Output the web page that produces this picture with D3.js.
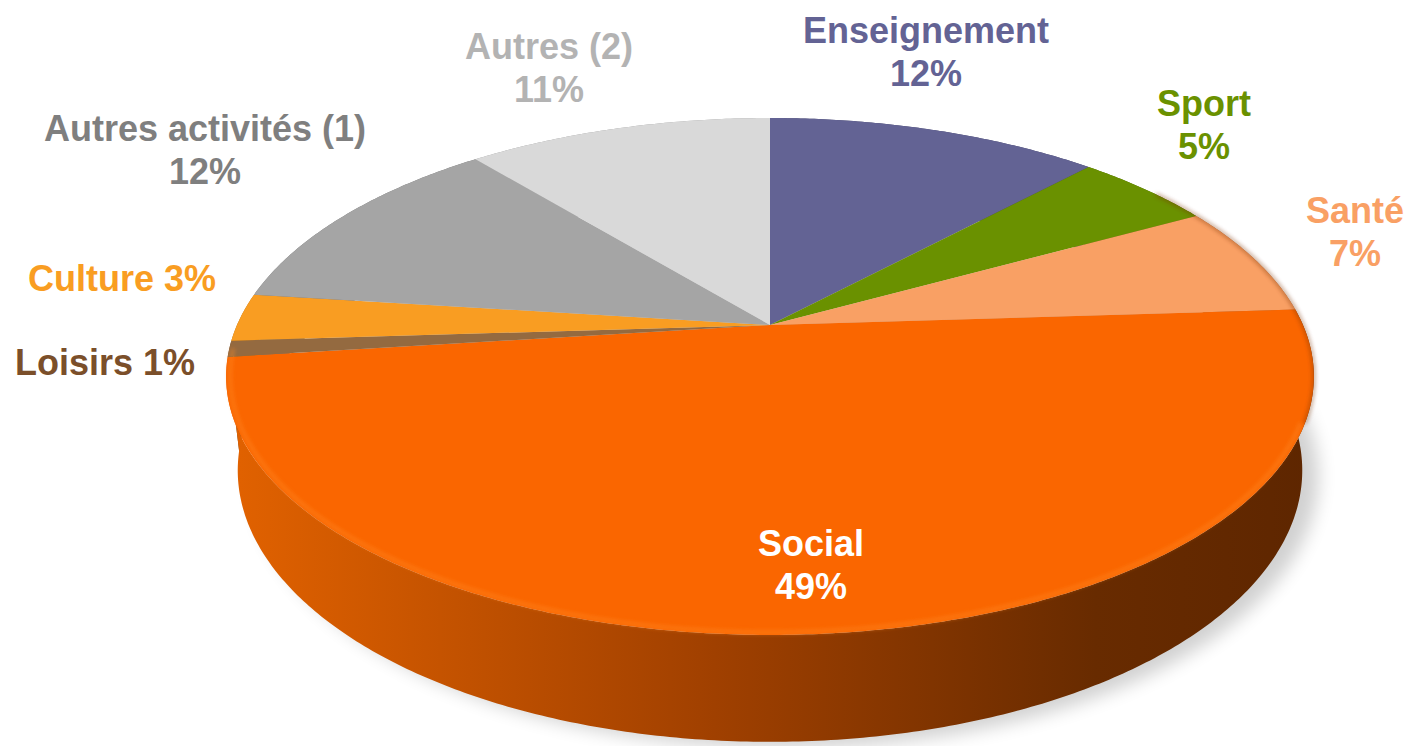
<!DOCTYPE html>
<html lang="fr">
<head>
    <meta charset="UTF-8">
    <title>pie-3d-perspective</title>
    <script type="application/javascript" src="https://cdn.jsdelivr.net/npm/d3@7/dist/d3.min.js"></script>
    <style>
        body {
            margin: 0;
            background: #fff;
        }
        .labels text {
            font-family: "Liberation Sans", Arial, sans-serif;
            font-weight: bold;
            font-size: 36px;
        }
    </style>
</head>
<body>
<svg class="graph"></svg>
</body>
<script type="application/javascript">
    var width = 1409;
    var height = 746;

    // data
    var categories = ['Enseignement', 'Sport', 'Santé', 'Social', 'Loisirs', 'Culture', 'Autres activités (1)', 'Autres (2)'];
    var values = [12, 5, 7, 49, 1, 3, 12, 11];
    var sliceColors = ['#636394', '#6a9100', '#f9a064', '#fa6600', '#946a40', '#f99d22', '#a5a5a5', '#d9d9d9'];
    var labelColors = ['#636394', '#6a9100', '#f9a064', '#ffffff', '#7b4f2a', '#f99d22', '#7f7f7f', '#b3b3b3'];

    // label placement (center x, first baseline, one or two lines)
    var labelLayout = [
        {x: 926, y: 43, oneLine: false},
        {x: 1204, y: 116, oneLine: false},
        {x: 1355, y: 223, oneLine: false},
        {x: 811, y: 556, oneLine: false},
        {x: 105, y: 375, oneLine: true},
        {x: 122, y: 291, oneLine: true},
        {x: 205, y: 141, oneLine: false},
        {x: 549, y: 59, oneLine: false}
    ];

    // perspective camera
    var cx = 770, cy = 325;
    var F = 2368, D = 4.443;
    var sinA = 0.4657, cosA = 0.885;
    var thick = 0.2;

    function project(theta, r, h) {
        var u = r * Math.sin(theta);
        var v = -r * Math.cos(theta);
        var depth = D - h * sinA - v * cosA;
        return [cx + F * u / depth, cy - F * (h * cosA - v * sinA) / depth];
    }

    function arcPoints(a0, a1, r, h) {
        var n = Math.max(4, Math.ceil(Math.abs(a1 - a0) / 0.01));
        var pts = [];
        for (var i = 0; i <= n; i++) {
            pts.push(project(a0 + (a1 - a0) * i / n, r, h));
        }
        return pts;
    }

    var line = d3.line();

    var svg = d3.select('.graph')
        .attr('width', width)
        .attr('height', height);

    var defs = svg.append('defs');

    var wallGrad = defs.append('linearGradient')
        .attr('id', 'wallGrad')
        .attr('gradientUnits', 'userSpaceOnUse')
        .attr('x1', 225).attr('x2', 1313)
        .attr('y1', 0).attr('y2', 0);
    wallGrad.append('stop').attr('offset', 0).attr('stop-color', '#e26200');
    wallGrad.append('stop').attr('offset', 0.45).attr('stop-color', '#a04000');
    wallGrad.append('stop').attr('offset', 0.8).attr('stop-color', '#682b00');
    wallGrad.append('stop').attr('offset', 1).attr('stop-color', '#5e2600');

    defs.append('filter').attr('id', 'shadowBlur')
        .attr('x', '-20%').attr('y', '-20%').attr('width', '140%').attr('height', '140%')
        .append('feGaussianBlur').attr('stdDeviation', 9);

    defs.append('filter').attr('id', 'rimBlur')
        .append('feGaussianBlur').attr('stdDeviation', 2);

    var pie = d3.pie().sort(null).value(function (d) { return d; });
    var arcs = pie(values);

    // soft shadow under the disc
    var bottomRing = arcPoints(0, 2 * Math.PI, 1, -thick);
    svg.append('path')
        .attr('d', line(bottomRing) + 'Z')
        .attr('transform', 'translate(16,6)')
        .attr('fill', '#000')
        .attr('opacity', 0.18)
        .attr('filter', 'url(#shadowBlur)');

    // outer walls, far ones first
    var walls = arcs.map(function (a, i) {
        var top = arcPoints(a.startAngle, a.endAngle, 1, 0);
        var bottom = arcPoints(a.endAngle, a.startAngle, 1, -thick);
        var mid = (a.startAngle + a.endAngle) / 2;
        return {i: i, pts: top.concat(bottom), near: -Math.cos(mid) + (a.endAngle - a.startAngle)};
    }).sort(function (a, b) { return a.near - b.near; });

    svg.append('g')
        .attr('class', 'walls')
        .selectAll('path')
        .data(walls)
        .enter()
        .append('path')
        .attr('d', function (d) { return line(d.pts) + 'Z'; })
        .attr('fill', function (d) {
            return d.i === 3 ? 'url(#wallGrad)' : d3.color(sliceColors[d.i]).darker(1).toString();
        });

    // top faces
    svg.append('g')
        .attr('class', 'slices')
        .selectAll('path')
        .data(arcs)
        .enter()
        .append('path')
        .attr('d', function (d) {
            var pts = [project(0, 0, 0)].concat(arcPoints(d.startAngle, d.endAngle, 1, 0));
            return line(pts) + 'Z';
        })
        .attr('fill', function (d, i) { return sliceColors[i]; });

    // bevel highlight along the front rim
    svg.append('path')
        .attr('d', line(arcPoints(Math.PI * 0.62, Math.PI * 1.47, 0.993, 0)))
        .attr('fill', 'none')
        .attr('stroke', '#ff8a26')
        .attr('stroke-width', 3)
        .attr('opacity', 0.6)
        .attr('filter', 'url(#rimBlur)');

    // dark rim on the right side
    svg.append('path')
        .attr('d', line(arcPoints(Math.PI * 0.3, Math.PI * 0.62, 1, 0)))
        .attr('fill', 'none')
        .attr('stroke', '#7a3000')
        .attr('stroke-width', 2.5)
        .attr('opacity', 0.6)
        .attr('filter', 'url(#rimBlur)');

    // labels
    var labels = svg.append('g')
        .attr('class', 'labels')
        .selectAll('text')
        .data(arcs)
        .enter()
        .append('text')
        .attr('text-anchor', 'middle')
        .attr('fill', function (d, i) { return labelColors[i]; })
        .attr('x', function (d, i) { return labelLayout[i].x; })
        .attr('y', function (d, i) { return labelLayout[i].y; });

    labels.each(function (d, i) {
        var t = d3.select(this);
        var pct = values[i] + '%';
        if (labelLayout[i].oneLine) {
            t.text(categories[i] + ' ' + pct);
        } else {
            t.append('tspan').attr('x', labelLayout[i].x).text(categories[i]);
            t.append('tspan').attr('x', labelLayout[i].x).attr('dy', 43).text(pct);
        }
    });
</script>
</html>
